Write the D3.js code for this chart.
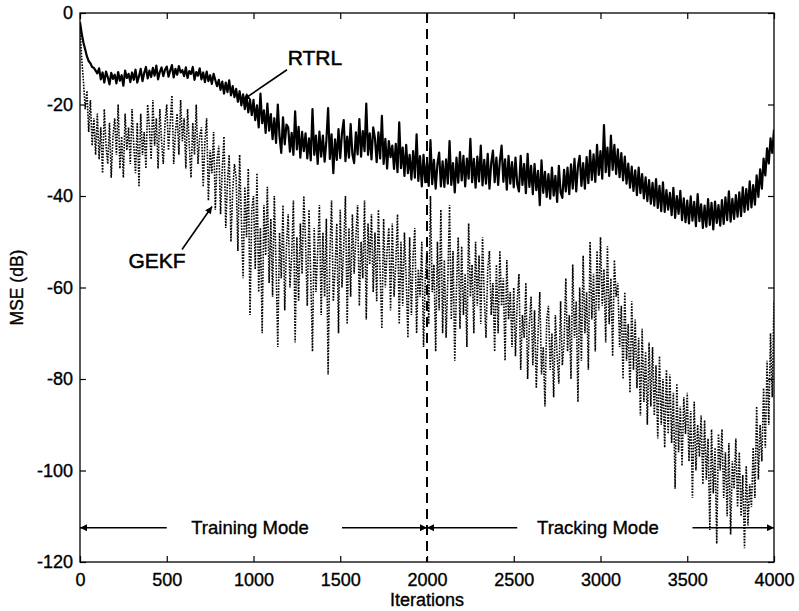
<!DOCTYPE html>
<html>
<head>
<meta charset="utf-8">
<script src="https://cdn.jsdelivr.net/npm/d3@7"></script>
<style>
  body { margin: 0; background: #fff; }
  text { font-family: "Liberation Sans", Arial, Helvetica, sans-serif; fill: #000; }
</style>
</head>
<body>
<svg id="chart" width="799" height="611"></svg>
<script>
// Iteration index of each sample (one sample every 10 iterations)
const iterations = d3.range(0, 4001, 10);

// RTRL learning curve, MSE in dB
const rtrl = [
  -2.0,-4.5,-6.5,-8.0,-9.5,-10.5,-11.0,-11.8,-12.0,-12.6,
  -13.2,-12.1,-14.5,-13.0,-15.2,-12.8,-14.0,-15.6,-13.1,-14.4,
  -13.5,-15.4,-12.9,-14.8,-13.6,-15.9,-12.6,-14.2,-13.3,-15.1,
  -13.0,-14.6,-12.4,-15.2,-13.8,-12.2,-14.9,-13.1,-11.8,-14.3,
  -12.6,-14.0,-12.0,-13.7,-11.5,-14.5,-12.9,-11.9,-13.8,-12.4,
  -11.7,-13.9,-12.6,-11.4,-14.1,-12.2,-13.5,-11.6,-13.0,-12.5,
  -13.8,-11.9,-14.2,-12.7,-13.3,-11.8,-14.6,-12.9,-13.7,-12.1,
  -14.5,-13.0,-15.1,-12.8,-14.9,-13.6,-15.5,-13.3,-14.7,-16.0,
  -14.6,-16.8,-15.0,-17.6,-15.2,-17.3,-14.7,-18.0,-16.0,-18.4,
  -16.6,-19.4,-17.1,-20.2,-17.8,-21.0,-18.4,-21.7,-19.0,-22.3,
  -19.0,-23.4,-20.2,-25.0,-17.6,-24.1,-21.3,-26.2,-19.8,-25.7,
  -22.1,-27.6,-23.0,-28.4,-20.0,-26.9,-30.6,-22.8,-28.7,-24.4,
  -25.0,-30.3,-26.2,-31.0,-21.5,-29.8,-24.9,-31.6,-26.0,-30.2,
  -26.3,-31.8,-27.4,-32.2,-21.0,-31.0,-26.8,-33.0,-25.9,-31.4,
  -26.8,-32.5,-27.9,-20.8,-31.9,-26.5,-35.0,-27.6,-32.1,-25.4,
  -31.7,-26.2,-23.4,-32.4,-27.0,-31.6,-24.3,-30.9,-32.8,-26.1,
  -30.9,-23.2,-31.4,-25.8,-30.2,-19.8,-31.0,-26.3,-32.0,-25.0,
  -27.4,-32.6,-26.1,-31.8,-22.5,-33.0,-27.5,-34.0,-28.0,-31.5,
  -29.0,-34.1,-28.6,-34.8,-23.9,-33.9,-29.4,-35.6,-28.8,-35.0,
  -31.0,-36.4,-30.2,-36.0,-26.5,-36.7,-31.3,-37.9,-31.0,-37.0,
  -32.6,-37.8,-27.8,-37.4,-32.1,-38.4,-33.0,-30.5,-37.9,-32.4,
  -38.0,-32.0,-37.3,-28.0,-37.6,-32.8,-39.2,-31.6,-37.1,-30.4,
  -36.6,-31.2,-37.9,-31.8,-36.2,-27.5,-37.0,-31.9,-38.2,-31.4,
  -36.8,-29.0,-37.7,-32.1,-37.3,-30.8,-38.4,-32.9,-30.1,-37.0,
  -31.6,-37.6,-32.3,-29.0,-36.9,-32.0,-38.6,-31.2,-37.3,-32.6,
  -38.1,-31.6,-37.4,-39.0,-31.2,-37.6,-33.0,-39.4,-30.8,-38.0,
  -33.4,-39.6,-33.0,-38.7,-34.5,-42.0,-32.2,-39.3,-34.7,-40.2,
  -35.2,-40.6,-33.8,-39.9,-35.6,-41.3,-33.4,-39.2,-40.4,-34.3,
  -39.0,-33.8,-39.6,-33.1,-38.4,-31.9,-39.0,-33.5,-31.2,-37.8,
  -32.8,-38.4,-31.5,-37.2,-30.1,-36.5,-30.9,-36.9,-28.8,-35.4,
  -30.2,-36.2,-24.5,-34.8,-29.4,-35.6,-26.8,-34.3,-28.8,-35.2,
  -29.8,-35.9,-30.6,-36.6,-31.4,-37.3,-32.9,-38.2,-33.6,-38.9,
  -34.4,-39.8,-33.8,-39.4,-35.2,-40.5,-35.9,-41.1,-36.5,-41.7,
  -37.1,-42.1,-36.3,-42.6,-37.8,-43.3,-37.0,-43.5,-38.7,-43.0,
  -39.3,-44.2,-38.2,-44.8,-40.0,-43.9,-38.9,-45.3,-40.5,-45.7,
  -41.0,-46.0,-40.1,-45.4,-41.3,-46.6,-39.6,-45.5,-41.8,-47.0,
  -42.1,-46.7,-40.7,-46.3,-41.5,-47.3,-41.2,-45.9,-42.0,-46.5,
  -40.9,-46.1,-40.3,-45.3,-39.0,-45.6,-40.6,-45.0,-39.8,-44.5,
  -39.2,-44.4,-38.1,-43.5,-38.5,-43.0,-36.8,-42.5,-37.6,-41.9,
  -35.5,-40.2,-34.2,-38.4,-31.8,-35.5,-29.6,-32.9,-27.4,-30.6,
  -25.5
];

// GEKF learning curve, MSE in dB
const gekf = [
  -3,-10,-15,-21,-17,-26,-19,-29,-23,-31,
  -22,-32,-25,-35,-21,-29,-33,-24,-36,-27,
  -23,-31,-20,-34,-27,-36,-22,-30,-25,-33,
  -21,-29,-35,-24,-38,-22,-31,-26,-34,-20,
  -25,-32,-19,-29,-23,-34,-21,-28,-33,-24,
  -20,-30,-24,-18,-33,-26,-22,-31,-19,-28,
  -23,-34,-21,-29,-36,-24,-31,-20,-33,-27,
  -25,-38,-28,-23,-41,-30,-35,-26,-43,-32,
  -29,-44,-34,-27,-47,-37,-31,-50,-39,-33,
  -36,-52,-31,-45,-58,-38,-49,-34,-66,-43,
  -40,-56,-35,-61,-47,-70,-42,-53,-38,-59,
  -45,-62,-40,-55,-73,-48,-58,-42,-65,-51,
  -44,-60,-53,-41,-72,-49,-63,-46,-57,-40,
  -50,-64,-43,-58,-74,-47,-61,-52,-42,-66,
  -48,-62,-45,-79,-53,-41,-63,-56,-46,-70,
  -43,-60,-51,-40,-68,-47,-62,-44,-57,-49,
  -42,-64,-50,-58,-41,-67,-46,-55,-44,-61,
  -48,-63,-43,-57,-69,-45,-60,-52,-47,-65,
  -46,-62,-55,-44,-68,-50,-64,-48,-58,-71,
  -49,-66,-53,-47,-70,-56,-62,-50,-73,-58,
  -52,-68,-40,-61,-55,-74,-50,-65,-43,-70,
  -54,-71,-58,-42,-67,-52,-76,-60,-49,-69,
  -51,-66,-57,-73,-46,-62,-55,-70,-50,-64,
  -53,-68,-49,-62,-71,-56,-52,-66,-59,-74,
  -55,-70,-52,-64,-58,-76,-54,-67,-61,-73,
  -60,-75,-63,-57,-78,-66,-71,-59,-80,-68,
  -62,-77,-65,-82,-70,-61,-79,-73,-86,-67,
  -64,-78,-70,-84,-66,-75,-81,-63,-77,-72,
  -58,-74,-66,-80,-55,-71,-63,-85,-60,-76,
  -53,-70,-61,-78,-50,-67,-57,-74,-52,-65,
  -49,-64,-56,-72,-51,-68,-58,-75,-54,-62,
  -59,-73,-64,-80,-61,-76,-68,-83,-63,-78,
  -67,-82,-71,-88,-69,-85,-74,-90,-72,-86,
  -73,-88,-77,-93,-75,-90,-80,-95,-78,-92,
  -79,-94,-83,-104,-81,-96,-86,-99,-84,-92,
  -83,-98,-87,-106,-85,-100,-90,-97,-88,-103,
  -89,-102,-93,-113,-91,-105,-95,-116,-92,-100,
  -91,-106,-96,-110,-94,-114,-98,-104,-93,-108,
  -96,-110,-101,-117,-99,-112,-103,-108,-95,-106,
  -86,-102,-90,-98,-82,-95,-76,-90,-70,-84,
  -63
];

// Axis ticks
const xTicks = [0, 500, 1000, 1500, 2000, 2500, 3000, 3500, 4000];
const yTicks = [0, -20, -40, -60, -80, -100, -120];

// Mode annotations (iteration ranges of the arrow segments, dB level)
const modeLevel = -112.5;
const modes = [
  { label: "Training Mode", at: 980,  left: [0, 500],    right: [1510, 2000] },
  { label: "Tracking Mode", at: 2985, left: [2000, 2520], right: [3530, 4000] }
];
const switchIteration = 2000;

// Curve labels (text anchor point and arrow from/to, in data units)
const curveLabels = [
  { label: "RTRL", tx: 1354, ty: -9.8,  from: [1193, -12.4], to: [939, -19.0] },
  { label: "GEKF", tx: 444,  ty: -54.1, from: [588, -51.7],  to: [761, -42.3] }
];

const svg = d3.select("#chart");
const box = { left: 80, top: 13, right: 774, bottom: 562 };

const x = d3.scaleLinear().domain([0, 4000]).range([box.left, box.right]);
const y = d3.scaleLinear().domain([-120, 0]).range([box.bottom, box.top]);

svg.append("rect").attr("width", 799).attr("height", 611).attr("fill", "#fff");

const defs = svg.append("defs");
defs.append("clipPath").attr("id", "plotClip")
  .append("rect")
  .attr("x", box.left).attr("y", box.top)
  .attr("width", box.right - box.left).attr("height", box.bottom - box.top);

defs.append("marker")
  .attr("id", "arrowHead")
  .attr("viewBox", "0 0 10 10")
  .attr("refX", 10).attr("refY", 5)
  .attr("markerWidth", 10).attr("markerHeight", 7)
  .attr("markerUnits", "userSpaceOnUse")
  .attr("orient", "auto")
  .append("path").attr("d", "M0,0 L10,5 L0,10 Z").attr("fill", "#000");

const plot = svg.append("g").attr("clip-path", "url(#plotClip)");

const line = d3.line().x((d, i) => x(iterations[i])).y(d => y(d));

// GEKF: dotted
plot.append("path")
  .datum(gekf)
  .attr("d", line)
  .attr("fill", "none")
  .attr("stroke", "#000")
  .attr("stroke-width", 1.6)
  .attr("stroke-dasharray", "1.6,1.3");

// RTRL: solid
plot.append("path")
  .datum(rtrl)
  .attr("d", line)
  .attr("fill", "none")
  .attr("stroke", "#000")
  .attr("stroke-width", 2.2)
  .attr("stroke-linejoin", "round");

// Mode switch marker
svg.append("line")
  .attr("x1", x(switchIteration)).attr("x2", x(switchIteration))
  .attr("y1", y(0)).attr("y2", y(-120))
  .attr("stroke", "#000").attr("stroke-width", 2)
  .attr("stroke-dasharray", "10,6");

// Axes with inward ticks on all four sides
const fmt = d => String(d);
const tick = 6;

const gx = svg.append("g").attr("transform", `translate(0,${box.bottom})`)
  .call(d3.axisBottom(x).tickValues(xTicks).tickSizeInner(-tick).tickSizeOuter(0)
        .tickPadding(11).tickFormat(fmt));
const gy = svg.append("g").attr("transform", `translate(${box.left},0)`)
  .call(d3.axisLeft(y).tickValues(yTicks).tickSizeInner(-tick).tickSizeOuter(0)
        .tickPadding(7).tickFormat(fmt));
const gt = svg.append("g").attr("transform", `translate(0,${box.top})`)
  .call(d3.axisTop(x).tickValues(xTicks).tickSizeInner(-tick).tickSizeOuter(0).tickFormat(""));
const gr = svg.append("g").attr("transform", `translate(${box.right},0)`)
  .call(d3.axisRight(y).tickValues(yTicks).tickSizeInner(-tick).tickSizeOuter(0).tickFormat(""));

[gx, gy, gt, gr].forEach(g => {
  g.select(".domain").remove();
  g.selectAll(".tick line").attr("stroke", "#000").attr("stroke-width", 1.2);
  g.selectAll(".tick text")
    .attr("font-family", "'Liberation Sans', Arial, Helvetica, sans-serif")
    .attr("font-size", 18).attr("fill", "#000")
    .attr("stroke", "#000").attr("stroke-width", 0.35);
});

svg.append("rect")
  .attr("x", box.left).attr("y", box.top)
  .attr("width", box.right - box.left).attr("height", box.bottom - box.top)
  .attr("fill", "none").attr("stroke", "#000").attr("stroke-width", 1.3);

// Axis titles
svg.append("text")
  .attr("x", (box.left + box.right) / 2).attr("y", 606)
  .attr("text-anchor", "middle").attr("font-size", 18)
  .attr("stroke", "#000").attr("stroke-width", 0.35)
  .text("Iterations");
svg.append("text")
  .attr("transform", `translate(23,${(box.top + box.bottom) / 2}) rotate(-90)`)
  .attr("text-anchor", "middle").attr("font-size", 17.5)
  .attr("stroke", "#000").attr("stroke-width", 0.35)
  .text("MSE (dB)");

// Training / tracking mode arrows
modes.forEach(m => {
  svg.append("line")
    .attr("x1", x(m.left[1])).attr("x2", x(m.left[0]))
    .attr("y1", y(modeLevel)).attr("y2", y(modeLevel))
    .attr("stroke", "#000").attr("stroke-width", 1.4)
    .attr("marker-end", "url(#arrowHead)");
  svg.append("line")
    .attr("x1", x(m.right[0])).attr("x2", x(m.right[1]))
    .attr("y1", y(modeLevel)).attr("y2", y(modeLevel))
    .attr("stroke", "#000").attr("stroke-width", 1.4)
    .attr("marker-end", "url(#arrowHead)");
  svg.append("text")
    .attr("x", x(m.at)).attr("y", y(modeLevel))
    .attr("dy", "0.35em")
    .attr("text-anchor", "middle").attr("font-size", 18.5)
    .attr("stroke", "#000").attr("stroke-width", 0.35)
    .text(m.label);
});

// Curve labels with pointer arrows
curveLabels.forEach(c => {
  svg.append("line")
    .attr("x1", x(c.from[0])).attr("y1", y(c.from[1]))
    .attr("x2", x(c.to[0])).attr("y2", y(c.to[1]))
    .attr("stroke", "#000").attr("stroke-width", 1.6)
    .attr("marker-end", "url(#arrowHead)");
  svg.append("text")
    .attr("x", x(c.tx)).attr("y", y(c.ty))
    .attr("dy", "0.35em")
    .attr("text-anchor", "middle").attr("font-size", 21)
    .attr("stroke", "#000").attr("stroke-width", 0.5)
    .text(c.label);
});
</script>
</body>
</html>
